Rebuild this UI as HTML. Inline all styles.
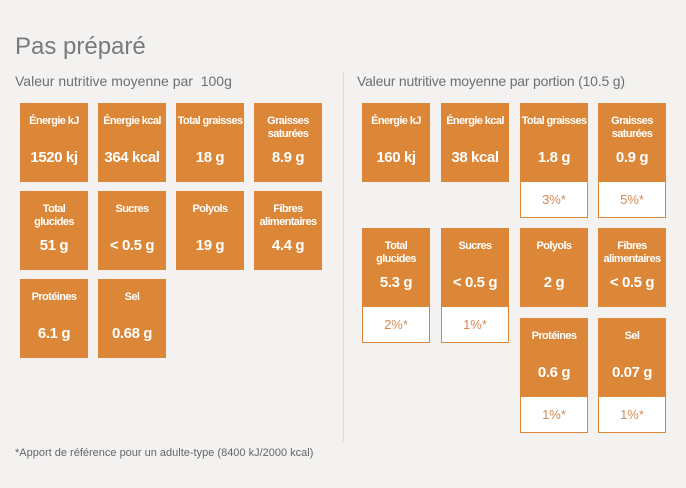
<!DOCTYPE html>
<html><head><meta charset="utf-8"><style>
body{margin:0;width:686px;height:488px;background:#f3f2f0;font-family:"Liberation Sans",sans-serif;position:relative;overflow:hidden}
.t{position:absolute;color:#777}
.b{position:absolute;width:68px;height:79px;background:#dc8637;color:#fff;font-weight:bold;text-align:center}
.b .l{position:absolute;top:12px;left:-2px;right:-2px;font-size:11px;line-height:13px;letter-spacing:-0.6px}
.b .v{position:absolute;top:46px;left:0;right:0;font-size:15px;letter-spacing:-0.4px}
.p{position:absolute;width:66px;height:35px;border:1px solid #dc8637;border-top:none;background:#fff;color:#d48a52;font-size:13px;text-align:center;line-height:35px}
</style></head><body>
<div class="t" style="left:15px;top:33px;font-size:24px;color:#7a7a7a">Pas préparé</div>
<div class="t" style="left:15px;top:73px;font-size:14px;color:#6f6f6f">Valeur nutritive moyenne par&nbsp; 100g</div>
<div class="t" style="left:357px;top:73px;font-size:14px;color:#6f6f6f;letter-spacing:-0.2px">Valeur nutritive moyenne par portion (10.5 g)</div>
<div style="position:absolute;left:343px;top:72px;width:1px;height:370px;background:#dddbd8"></div>

<div class="b" style="left:20px;top:103px"><div class="l">Énergie kJ</div><div class="v">1520 kj</div></div>
<div class="b" style="left:98px;top:103px"><div class="l">Énergie kcal</div><div class="v">364 kcal</div></div>
<div class="b" style="left:176px;top:103px"><div class="l">Total graisses</div><div class="v">18 g</div></div>
<div class="b" style="left:254px;top:103px"><div class="l">Graisses<br>saturées</div><div class="v">8.9 g</div></div>
<div class="b" style="left:20px;top:191px"><div class="l">Total<br>glucides</div><div class="v">51 g</div></div>
<div class="b" style="left:98px;top:191px"><div class="l">Sucres</div><div class="v">&lt; 0.5 g</div></div>
<div class="b" style="left:176px;top:191px"><div class="l">Polyols</div><div class="v">19 g</div></div>
<div class="b" style="left:254px;top:191px"><div class="l">Fibres<br>alimentaires</div><div class="v">4.4 g</div></div>
<div class="b" style="left:20px;top:279px"><div class="l">Protéines</div><div class="v">6.1 g</div></div>
<div class="b" style="left:98px;top:279px"><div class="l">Sel</div><div class="v">0.68 g</div></div>

<div class="b" style="left:362px;top:103px"><div class="l">Énergie kJ</div><div class="v">160 kj</div></div>
<div class="b" style="left:441px;top:103px"><div class="l">Énergie kcal</div><div class="v">38 kcal</div></div>
<div class="b" style="left:520px;top:103px"><div class="l">Total graisses</div><div class="v">1.8 g</div></div>
<div class="p" style="left:520px;top:182px">3%*</div>
<div class="b" style="left:598px;top:103px"><div class="l">Graisses<br>saturées</div><div class="v">0.9 g</div></div>
<div class="p" style="left:598px;top:182px">5%*</div>
<div class="b" style="left:362px;top:228px"><div class="l">Total<br>glucides</div><div class="v">5.3 g</div></div>
<div class="p" style="left:362px;top:307px">2%*</div>
<div class="b" style="left:441px;top:228px"><div class="l">Sucres</div><div class="v">&lt; 0.5 g</div></div>
<div class="p" style="left:441px;top:307px">1%*</div>
<div class="b" style="left:520px;top:228px"><div class="l">Polyols</div><div class="v">2 g</div></div>
<div class="b" style="left:598px;top:228px"><div class="l">Fibres<br>alimentaires</div><div class="v">&lt; 0.5 g</div></div>
<div class="b" style="left:520px;top:318px"><div class="l">Protéines</div><div class="v">0.6 g</div></div>
<div class="p" style="left:520px;top:397px">1%*</div>
<div class="b" style="left:598px;top:318px"><div class="l">Sel</div><div class="v">0.07 g</div></div>
<div class="p" style="left:598px;top:397px">1%*</div>

<div class="t" style="left:15px;top:447px;font-size:11px;color:#666">*Apport de référence pour un adulte-type (8400 kJ/2000 kcal)</div>
</body></html>
